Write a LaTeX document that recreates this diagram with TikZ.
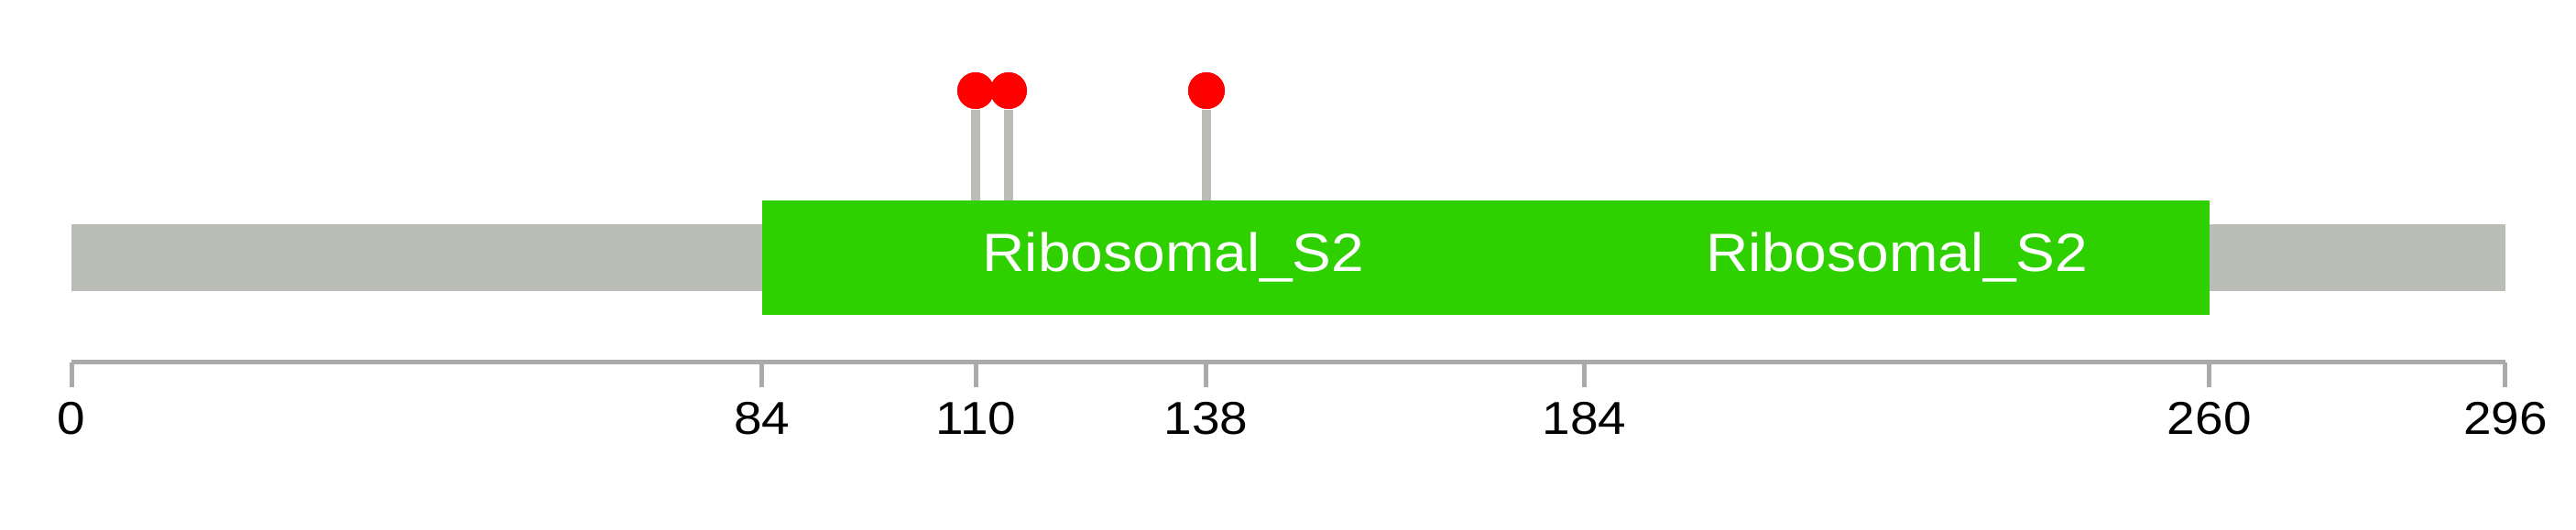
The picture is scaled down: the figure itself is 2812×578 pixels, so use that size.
\documentclass[tikz,border=0pt]{standalone}
\usepackage{fontspec}
\setmainfont{Liberation Sans}
\usepackage{tikz}
\usetikzlibrary{
    positioning
}
\definecolor{chain}{HTML}{BABDB6}
\definecolor{pfam}{HTML}{2ED000}
\definecolor{axisgrey}{HTML}{AAAAAA}
\tikzset{
    pfamlabel/.style={
        text=white,
        inner sep=0pt,
        xscale=1.09,
        font=\fontsize{14.7}{16}\selectfont
    },
    ticklabel/.style={
        inner sep=0pt,
        xscale=1.09,
        font=\fontsize{12.6}{14}\selectfont
    },
    site/.style={
        circle,
        fill=red,
        inner sep=0pt,
        minimum size=10pt
    },
    stick/.style={
        draw=chain,
        line width=2.7pt
    }
}

\begin{document}
\begin{tikzpicture}[
    x=0.25pt,
    y=-0.25pt
]

    % Marco
    \useasboundingbox (0,0) rectangle (2812,578);

    % Cadena
    \fill[chain] (78,245) rectangle (2735,318);

    % Sitios
    \node[site] (s110) at (1065,99) {};
    \node[site] (s114) at (1101,99) {};
    \node[site] (s138) at (1317,99) {};
    \coordinate (b110) at (1065,219);
    \coordinate (b114) at (1101,219);
    \coordinate (b138) at (1317,219);
    \draw[stick] (b110) -- (s110);
    \draw[stick] (b114) -- (s114);
    \draw[stick] (b138) -- (s138);

    % Dominios
    \fill[pfam] (832,219) rectangle (1730,344);
    \fill[pfam] (1730,219) rectangle (2412,344);
    \node[pfamlabel] (dom1) at (1281,281.5) {Ribosomal\_S2};
    \node[pfamlabel] (dom2) at (2071,281.5) {Ribosomal\_S2};

    % Cabezas encima
    \node[site] at (s110) {};
    \node[site] at (s114) {};
    \node[site] at (s138) {};

    % Eje
    \coordinate (a0) at (78,395.5);
    \coordinate (a296) at (2735,395.5);
    \draw[axisgrey, line width=1.25pt] (a0) -- (a296);
    \foreach \p in {0,84,110,138,184,260,296} {
        \pgfmathsetmacro\px{78+8.976*\p}
        \draw[axisgrey, line width=1.25pt] (\px,395.5) -- (\px,423);
        \node[ticklabel] (t\p) at (\px,457) {\p};
    }

\end{tikzpicture}
\end{document}
